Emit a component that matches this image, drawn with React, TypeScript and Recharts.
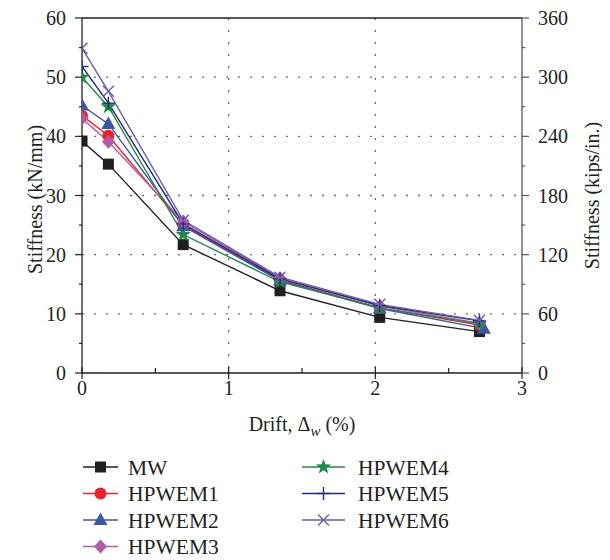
import React from 'react';
import { LineChart, Line, XAxis, YAxis, CartesianGrid, ReferenceLine, Legend } from 'recharts';

const FONT = '"Liberation Serif", "Times New Roman", serif';
const FS = 20;
const TXT = '#231f20';

const drift = [0, 0.18, 0.69, 1.35, 2.03, 2.71];
const driftHP2 = [0, 0.18, 0.69, 1.35, 2.03, 2.74];

const mw = [39.2, 35.3, 21.7, 13.9, 9.4, 7.0];
const hpwem1 = [43.5, 40.1, 25.0, 15.7, 11.0, 8.1];
const hpwem2 = [45.2, 42.1, 24.8, 15.6, 10.9, 7.5];
const hpwem3 = [43.0, 39.1, 25.6, 16.0, 11.3, 8.4];
const hpwem4 = [50.0, 45.0, 23.4, 15.4, 11.0, 8.3];
const hpwem5 = [51.8, 45.6, 25.2, 15.9, 11.4, 8.8];
const hpwem6 = [54.9, 47.6, 25.8, 16.2, 11.6, 8.9];

const xTicks = [0, 0.5, 1, 1.5, 2, 2.5, 3];
const xLabelTicks = [0, 1, 2, 3];
const yLeftTicks = [0, 5, 10, 15, 20, 25, 30, 35, 40, 45, 50, 55, 60];
const yLeftLabelTicks = [0, 10, 20, 30, 40, 50, 60];
const yRightTicks = [0, 30, 60, 90, 120, 150, 180, 210, 240, 270, 300, 330, 360];
const yRightLabelTicks = [0, 60, 120, 180, 240, 300, 360];
const gridX = [1, 2];
const gridY = [10, 20, 30, 40, 50];

type MarkerType = 'square' | 'circle' | 'triangle' | 'diamond' | 'star' | 'plus' | 'cross';

const series: { name: string; xs: number[]; ys: number[]; color: string; marker: MarkerType }[] = [
  { name: 'MW', xs: drift, ys: mw, color: '#231f20', marker: 'square' },
  { name: 'HPWEM1', xs: drift, ys: hpwem1, color: '#ec2227', marker: 'circle' },
  { name: 'HPWEM2', xs: driftHP2, ys: hpwem2, color: '#3b57a6', marker: 'triangle' },
  { name: 'HPWEM3', xs: drift, ys: hpwem3, color: '#b459a6', marker: 'diamond' },
  { name: 'HPWEM4', xs: drift, ys: hpwem4, color: '#1f8a44', marker: 'star' },
  { name: 'HPWEM5', xs: drift, ys: hpwem5, color: '#262a7c', marker: 'plus' },
  { name: 'HPWEM6', xs: drift, ys: hpwem6, color: '#6b5bb0', marker: 'cross' },
];

function starPath(cx: number, cy: number, ro: number, ri: number) {
  let d = '';
  for (let i = 0; i < 10; i++) {
    const r = i % 2 === 0 ? ro : ri;
    const a = -Math.PI / 2 + (i * Math.PI) / 5;
    d += (i === 0 ? 'M' : 'L') + (cx + r * Math.cos(a)).toFixed(2) + ',' + (cy + r * Math.sin(a)).toFixed(2);
  }
  return d + 'Z';
}

function Marker({ type, cx, cy, color }: { type: MarkerType; cx: number; cy: number; color: string }) {
  switch (type) {
    case 'square':
      return <rect x={cx - 5.5} y={cy - 5.5} width={11} height={11} fill={color} />;
    case 'circle':
      return <circle cx={cx} cy={cy} r={6} fill={color} />;
    case 'triangle':
      return <path d={`M${cx},${cy - 7.5}L${cx + 7},${cy + 5}L${cx - 7},${cy + 5}Z`} fill={color} />;
    case 'diamond':
      return <path d={`M${cx},${cy - 7}L${cx + 6.5},${cy}L${cx},${cy + 7}L${cx - 6.5},${cy}Z`} fill={color} />;
    case 'star':
      return <path d={starPath(cx, cy, 8, 3.3)} fill={color} />;
    case 'plus':
      return (
        <g stroke={color} strokeWidth={1.4}>
          <line x1={cx - 6.5} y1={cy} x2={cx + 6.5} y2={cy} />
          <line x1={cx} y1={cy - 6.5} x2={cx} y2={cy + 6.5} />
        </g>
      );
    case 'cross':
      return (
        <g stroke={color} strokeWidth={1.4}>
          <line x1={cx - 5.5} y1={cy - 5.5} x2={cx + 5.5} y2={cy + 5.5} />
          <line x1={cx - 5.5} y1={cy + 5.5} x2={cx + 5.5} y2={cy - 5.5} />
        </g>
      );
  }
  return null;
}

const XTick = (props: any) => {
  const { x, y, payload } = props;
  const v = payload.value;
  const major = xLabelTicks.includes(v);
  return (
    <g>
      {major ? (
        <line x1={x} y1={y - 6} x2={x} y2={y + 6} stroke={TXT} strokeWidth={1.2} />
      ) : (
        <line x1={x} y1={y - 5} x2={x} y2={y} stroke={TXT} strokeWidth={1.2} />
      )}
      {major && (
        <text x={x} y={y + 22} textAnchor="middle" fontFamily={FONT} fontSize={FS} fill={TXT}>
          {v}
        </text>
      )}
    </g>
  );
};

const YLeftTick = (props: any) => {
  const { x, y, payload } = props;
  const v = payload.value;
  const major = yLeftLabelTicks.includes(v);
  return (
    <g>
      <line x1={x - (major ? 7 : 3)} y1={y} x2={x} y2={y} stroke={TXT} strokeWidth={1.2} />
      {major && (
        <text x={x - 16} y={y + 7} textAnchor="end" fontFamily={FONT} fontSize={FS} fill={TXT}>
          {v}
        </text>
      )}
    </g>
  );
};

const YRightTick = (props: any) => {
  const { x, y, payload } = props;
  const v = payload.value;
  const major = yRightLabelTicks.includes(v);
  return (
    <g>
      <line x1={x} y1={y} x2={x + (major ? 7 : 3)} y2={y} stroke="#555" strokeWidth={1.2} />
      {major && (
        <text x={x + 16} y={y + 7} textAnchor="start" fontFamily={FONT} fontSize={FS} fill={TXT}>
          {v}
        </text>
      )}
    </g>
  );
};

const CHART_W = 602;
const CHART_H = 552;
const LEGEND_H = 110;
const PLOT_MID_Y = 10 + 355 / 2;

const legendPos = [
  { lx: 75, tx: 120, y: 17 },
  { lx: 75, tx: 120, y: 43.5 },
  { lx: 75, tx: 120, y: 70 },
  { lx: 75, tx: 120, y: 96.5 },
  { lx: 294, tx: 350, y: 17 },
  { lx: 294, tx: 350, y: 43.5 },
  { lx: 294, tx: 350, y: 70 },
];

const LegendContent = () => (
  <svg width={CHART_W} height={LEGEND_H} style={{ display: 'block' }}>
    {series.map((s, i) => {
      const p = legendPos[i];
      const w = i < 4 ? 35 : 43;
      return (
        <g key={s.name}>
          <line x1={p.lx} y1={p.y} x2={p.lx + w} y2={p.y} stroke={s.color} strokeWidth={1.4} />
          <Marker type={s.marker} cx={p.lx + w / 2} cy={p.y} color={s.color} />
          <text x={p.tx} y={p.y + 7.5} fontFamily={FONT} fontSize={21.5} fill={TXT}>
            {s.name}
          </text>
        </g>
      );
    })}
  </svg>
);

export default function App() {
  return (
    <LineChart
      width={CHART_W}
      height={CHART_H}
      margin={{ top: 10, right: 0, left: 0, bottom: 0 }}
      style={{ fontFamily: FONT }}
    >
      <CartesianGrid
        yAxisId="left"
        horizontalValues={gridY}
        verticalValues={gridX}
        stroke="#6a6a6a"
        strokeWidth={1.3}
        strokeDasharray="2 10"
      />
      <XAxis
        type="number"
        dataKey="x"
        domain={[0, 3]}
        ticks={xTicks}
        allowDataOverflow
        height={77}
        tickLine={false}
        tickSize={0}
        tickMargin={0}
        tick={<XTick />}
        stroke={TXT}
        strokeWidth={1.3}
        interval={0}
        label={(p: any) => {
          const vb = p.viewBox;
          return (
            <text
              x={vb.x + vb.width / 2}
              y={vb.y + 58}
              textAnchor="middle"
              fontFamily={FONT}
              fontSize={FS}
              fill={TXT}
            >
              <tspan>Drift, Δ</tspan>
              <tspan fontStyle="italic" fontSize={15} dy={5}>w</tspan>
              <tspan dy={-5}> (%)</tspan>
            </text>
          );
        }}
      />
      <YAxis
        yAxisId="left"
        type="number"
        domain={[0, 60]}
        allowDataOverflow
        ticks={yLeftTicks}
        width={74}
        tickLine={false}
        tickSize={0}
        tickMargin={0}
        tick={<YLeftTick />}
        stroke={TXT}
        strokeWidth={1.3}
        interval={0}
        label={(p: any) => {
          const vb = p.viewBox;
          const cx = vb.x + 27;
          const cy = PLOT_MID_Y + 4;
          return (
            <text
              x={cx}
              y={cy}
              transform={`rotate(-90, ${cx}, ${cy})`}
              textAnchor="middle"
              dominantBaseline="central"
              fontFamily={FONT}
              fontSize={FS}
              fill={TXT}
            >
              Stiffness (kN/mm)
            </text>
          );
        }}
      />
      <YAxis
        yAxisId="right"
        orientation="right"
        type="number"
        domain={[0, 360]}
        allowDataOverflow
        ticks={yRightTicks}
        width={88}
        tickLine={false}
        tickSize={0}
        tickMargin={0}
        tick={<YRightTick />}
        stroke="#555"
        strokeWidth={1.3}
        interval={0}
        label={(p: any) => {
          const vb = p.viewBox;
          const cx = vb.x + 70;
          const cy = PLOT_MID_Y;
          return (
            <text
              x={cx}
              y={cy}
              transform={`rotate(-90, ${cx}, ${cy})`}
              textAnchor="middle"
              dominantBaseline="central"
              fontFamily={FONT}
              fontSize={FS}
              fill={TXT}
            >
              Stiffness (kips/in.)
            </text>
          );
        }}
      />
      <ReferenceLine yAxisId="left" y={60} stroke={TXT} strokeWidth={1.3} />
      <Legend
        verticalAlign="bottom"
        content={<LegendContent />}
        wrapperStyle={{ left: 0, width: CHART_W, height: LEGEND_H }}
      />
      {series.map((s) => (
        <Line
          key={s.name}
          yAxisId="left"
          name={s.name}
          data={s.xs.map((x, i) => ({ x, y: s.ys[i] }))}
          dataKey="y"
          stroke={s.color}
          strokeWidth={1.4}
          isAnimationActive={false}
          dot={(p: any) => <Marker key={`${s.name}-${p.index}`} type={s.marker} cx={p.cx} cy={p.cy} color={s.color} />}
          activeDot={false}
        />
      ))}
    </LineChart>
  );
}
